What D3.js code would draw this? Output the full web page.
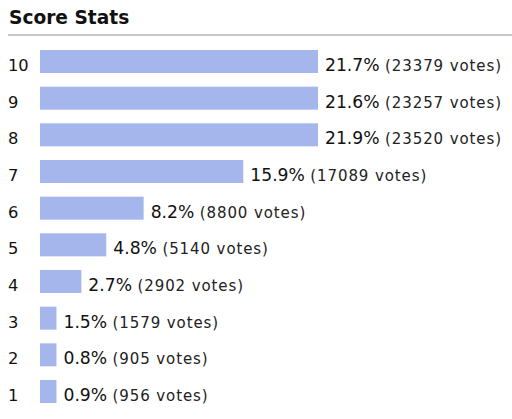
<!DOCTYPE html>
<html>
<head>
<meta charset="utf-8">
<script src="https://cdn.jsdelivr.net/npm/d3@7"></script>
<style>
  html, body { margin: 0; padding: 0; background: #fff; }
  svg { display: block; font-family: "DejaVu Sans", Verdana, sans-serif; }
</style>
</head>
<body>
<svg width="512" height="419"></svg>
<script>
const scores = [10, 9, 8, 7, 6, 5, 4, 3, 2, 1];
const percents = [21.7, 21.6, 21.9, 15.9, 8.2, 4.8, 2.7, 1.5, 0.8, 0.9];
const votes = [23379, 23257, 23520, 17089, 8800, 5140, 2902, 1579, 905, 956];

const svg = d3.select("svg");
const total = d3.sum(votes);

const rows = scores.map(function(s, i) {
	return {score: s, pct: percents[i], votes: votes[i], whole: Math.round(votes[i] / total * 100)};
});

// bar length follows the whole-number share, as on the page
const x = d3.scaleLinear()
	.domain([0, 22])
	.range([4, 278]);

const y = d3.scaleBand()
	.domain(scores)
	.range([50, 403])
	.paddingInner(0.373)
	.paddingOuter(0);

const left = 40;

// title and rule
svg.append("text")
	.attr("x", 9)
	.attr("y", 24)
	.style("font-size", "18.6px")
	.style("font-weight", "bold")
	.style("fill", "#111")
	.text("Score Stats");

svg.append("line")
	.attr("x1", 8)
	.attr("x2", 512)
	.attr("y1", 35)
	.attr("y2", 35)
	.style("stroke", "#c8c8c8")
	.style("stroke-width", 2);

const row = svg.selectAll(".row")
	.data(rows)
	.enter().append("g")
	.attr("class", "row")
	.attr("transform", function(d) { return "translate(0," + y(d.score) + ")"; });

row.append("text")
	.attr("x", 8)
	.attr("y", 21)
	.style("font-size", "16.3px")
	.style("fill", "#111")
	.text(function(d) { return d.score; });

row.append("rect")
	.attr("x", left)
	.attr("y", 0)
	.attr("width", function(d) { return x(d.whole); })
	.attr("height", y.bandwidth())
	.style("fill", "#a5b6ec");

const label = row.append("text")
	.attr("x", function(d) { return left + x(d.whole) + 7; })
	.attr("y", 21)
	.style("fill", "#111")
	.attr("xml:space", "preserve");

label.append("tspan")
	.style("font-size", "17.2px")
	.text(function(d) { return d.pct.toFixed(1) + "% "; });

label.append("tspan")
	.style("font-size", "15px")
	.style("letter-spacing", "0.9px")
	.style("fill", "#222")
	.text(function(d) { return "(" + d.votes + " votes)"; });
</script>
</body>
</html>
